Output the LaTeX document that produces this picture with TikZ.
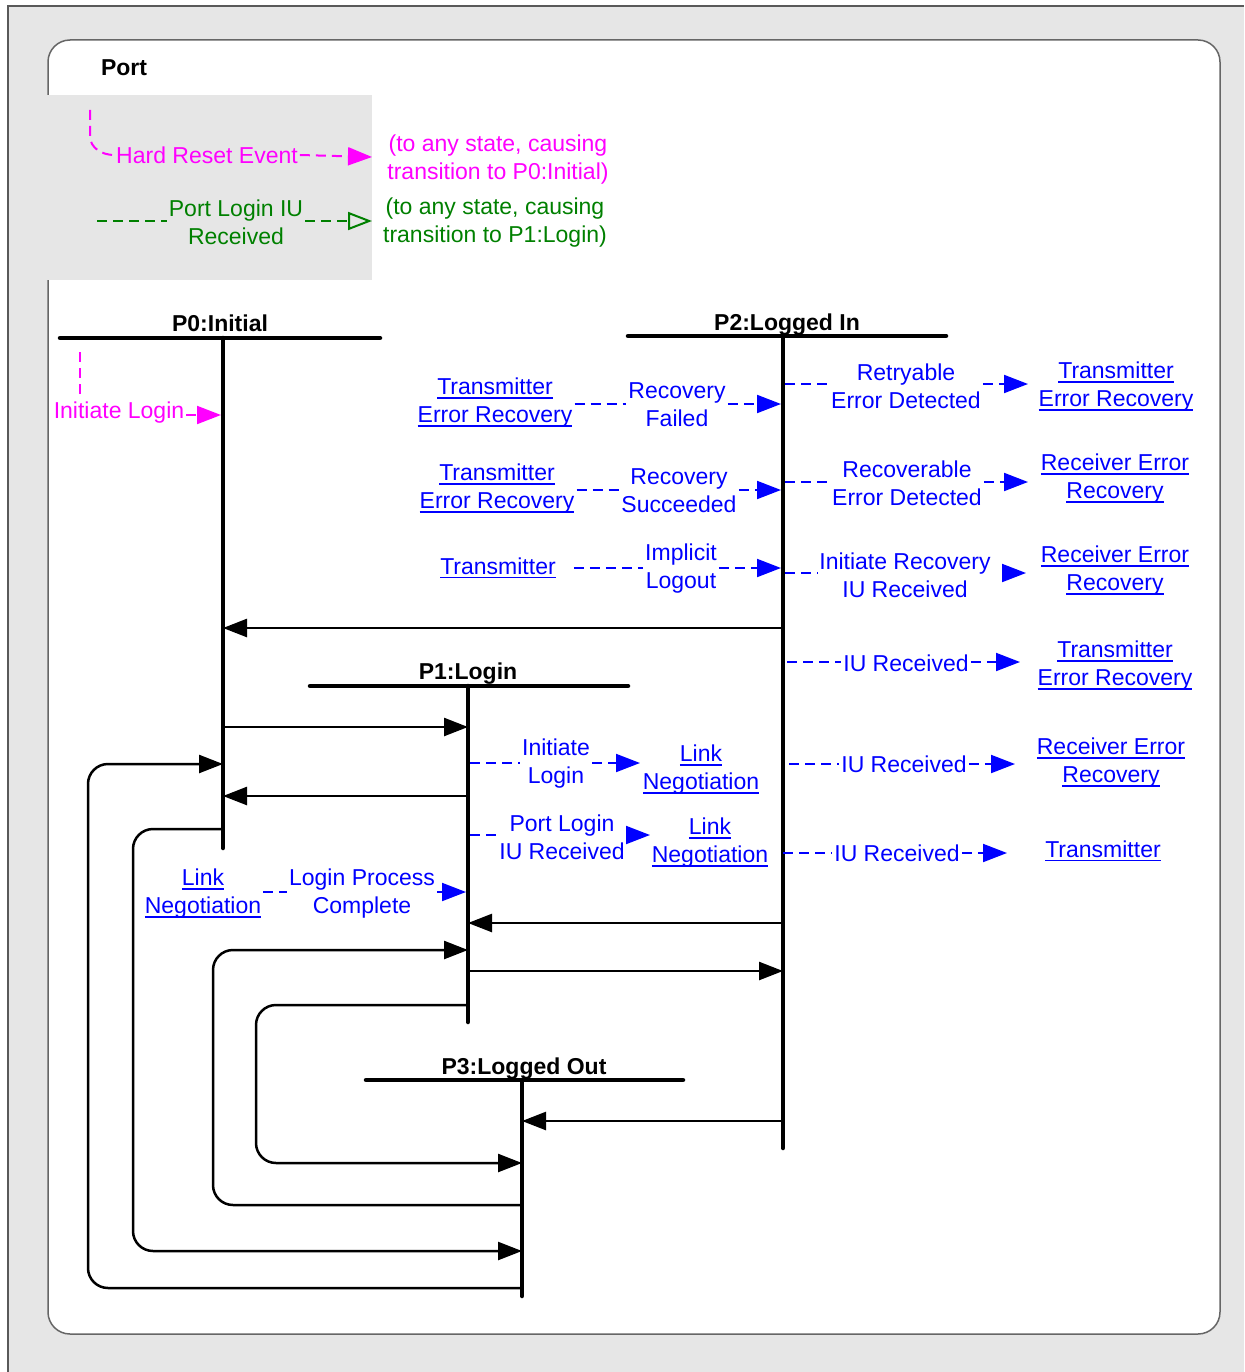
\documentclass[tikz,border=0pt]{standalone}
\usepackage{fontspec}
\setmainfont{Liberation Sans}
\usetikzlibrary{arrows.meta}
\definecolor{mag}{RGB}{255,0,255}
\definecolor{grn}{RGB}{0,128,0}
\definecolor{blu}{RGB}{0,0,255}
\definecolor{bgg}{RGB}{230,230,230}
\newcommand{\lnk}[1]{\setbox0\hbox{#1}\rlap{\vrule width\wd0 height -2.2pt depth 3.8pt}\box0}
\tikzset{
 txt/.style={font=\fontsize{23}{28}\selectfont, align=center, inner sep=2pt},
 st/.style={font=\bfseries\fontsize{23}{28}\selectfont, inner sep=0pt, anchor=base},
 bl/.style={txt, text=blu},
 bd/.style={draw=blu, line width=2pt, dash pattern=on 10pt off 6pt},
 md/.style={draw=mag, line width=2pt, dash pattern=on 10pt off 6pt},
 gd/.style={draw=grn, line width=2pt, dash pattern=on 10pt off 6pt},
 tip/.style={-{Triangle[length=24pt,width=18pt]}},
 otip/.style={-{Triangle[open,length=24pt,width=18pt]}},
 conn/.style={draw=black, line width=2.5pt, -{Triangle[length=24pt,width=18pt]}, rounded corners=20pt},
 life/.style={line width=4.5pt, line cap=round},
}
\begin{document}
\begin{tikzpicture}[x=1pt,y=-1pt]
\useasboundingbox (0,0) rectangle (1244,1372);
% frame
\fill[white] (0,0) rectangle (1244,1372);
\fill[bgg] (8,6) rectangle (1244,1372);
\draw[black!65, line width=1.5pt] (8,1372) -- (8,6) -- (1244,6);
\draw[fill=white, draw=black!60, line width=1.5pt, rounded corners=22pt] (48,40) rectangle (1220,1334);
\fill[bgg] (47,95) rectangle (372,280);
\node[st] (port) at (124,76) {Port};

% legend
\node[txt,text=mag] (hr) at (207,155) {Hard Reset Event};
\node[txt,text=mag] (hrt) at (498,160) {(to any state, causing\\transition to P0:Initial)};
\coordinate (hrs) at (90,110);
\coordinate (hrtip) at (372,157);
\draw[md] (hrs) -- (90,136) to[out=-90,in=180] (hr.west);
\draw[md,tip] (hr.east) -- (hrtip);
\node[txt,text=grn] (pl) at (236,222) {Port Login IU\\Received};
\node[txt,text=grn] (plt) at (495,223) {(to any state, causing\\transition to P1:Login)};
\coordinate (pls) at (97,221);
\coordinate (pltip) at (372,221);
\draw[gd] (pls) -- (pls -| pl.west);
\draw[gd,otip] (pls -| pl.east) -- (pltip);

% states
\node[st] (s0) at (220,331) {P0:Initial};
\node[st] (s2) at (787,330) {P2:Logged In};
\node[st] (s1) at (468,679) {P1:Login};
\node[st] (s3) at (524,1074) {P3:Logged Out};

\draw[life] (60,338) coordinate (b0l) -- (380,338) coordinate (b0r);
\draw[life] (223,338) coordinate (v0t) -- (223,848) coordinate (v0b);
\draw[life] (628,336) coordinate (b2l) -- (946,336) coordinate (b2r);
\draw[life] (783,336) coordinate (v2t) -- (783,1148) coordinate (v2b);
\draw[life] (310,686) coordinate (b1l) -- (628,686) coordinate (b1r);
\draw[life] (468,686) coordinate (v1t) -- (468,1022) coordinate (v1b);
\draw[life] (366,1080) coordinate (b3l) -- (683,1080) coordinate (b3r);
\draw[life] (522,1080) coordinate (v3t) -- (522,1296) coordinate (v3b);

% initiate login (magenta)
\node[txt,text=mag] (il) at (119,413) {Initiate Login};
\coordinate (ils) at (80,352);
\coordinate (ilt) at (221,415);
\draw[md] (ils) -- (80,398);
\draw[md,tip] (il.east |- ilt) -- (ilt);

% left of P2
\node[bl] (l1s) at (495,403) {\lnk{Transmitter}\\\lnk{Error Recovery}};
\node[bl] (l1) at (677,405) {Recovery\\Failed};
\coordinate (p2l1) at (781,404);
\draw[bd] (l1s.east |- p2l1) -- (l1.west |- p2l1);
\draw[bd,tip] (l1.east |- p2l1) -- (p2l1);
\node[bl] (l2s) at (497,489) {\lnk{Transmitter}\\\lnk{Error Recovery}};
\node[bl] (l2) at (679,491) {Recovery\\Succeeded};
\coordinate (p2l2) at (781,490);
\draw[bd] (l2s.east |- p2l2) -- (l2.west |- p2l2);
\draw[bd,tip] (l2.east |- p2l2) -- (p2l2);
\node[bl] (l3s) at (498,568) {\lnk{Transmitter}};
\node[bl] (l3) at (681,569) {Implicit\\Logout};
\coordinate (p2l3) at (781,568);
\draw[bd] ([xshift=16pt]l3s.east |- p2l3) -- (l3.west |- p2l3);
\draw[bd,tip] (l3.east |- p2l3) -- (p2l3);

% right of P2
\coordinate (p2r1) at (785,384);
\coordinate (r1tip) at (1028,384);
\node[bl] (r1) at (906,386) {Retryable\\Error Detected};
\node[bl] (r1t) at (1116,387) {\lnk{Transmitter}\\\lnk{Error Recovery}};
\draw[bd] (p2r1) -- (p2r1 -| r1.west);
\draw[bd,tip] (p2r1 -| r1.east) -- (r1tip);

\coordinate (p2r2) at (785,482);
\coordinate (r2tip) at (1028,482);
\node[bl] (r2) at (907,483) {Recoverable\\Error Detected};
\node[bl] (r2t) at (1115,479) {\lnk{Receiver Error}\\\lnk{Recovery}};
\draw[bd] (p2r2) -- (p2r2 -| r2.west);
\draw[bd,tip] (p2r2 -| r2.east) -- (r2tip);

\coordinate (p2r3) at (785,573);
\coordinate (r3tip) at (1026,573);
\node[bl] (r3) at (905,575) {Initiate Recovery\\IU Received};
\node[bl] (r3t) at (1115,571) {\lnk{Receiver Error}\\\lnk{Recovery}};
\draw[bd] (p2r3) -- (p2r3 -| r3.west);
\draw[bd,tip] ([xshift=12pt]p2r3 -| r3.east) -- (r3tip);

\coordinate (p2r4) at (787,662);
\coordinate (r4tip) at (1020,662);
\node[bl] (r4) at (906,663) {IU Received};
\node[bl] (r4t) at (1115,666) {\lnk{Transmitter}\\\lnk{Error Recovery}};
\draw[bd] (p2r4) -- (p2r4 -| r4.west);
\draw[bd,tip] (p2r4 -| r4.east) -- (r4tip);

\coordinate (p2r5) at (789,764);
\coordinate (r5tip) at (1015,764);
\node[bl] (r5) at (904,764) {IU Received};
\node[bl] (r5t) at (1111,763) {\lnk{Receiver Error}\\\lnk{Recovery}};
\draw[bd] (p2r5) -- (p2r5 -| r5.west);
\draw[bd,tip] (p2r5 -| r5.east) -- (r5tip);

\coordinate (p2r6) at (783,853);
\coordinate (r6tip) at (1007,853);
\node[bl] (r6) at (897,853) {IU Received};
\node[bl] (r6t) at (1103,851) {\lnk{Transmitter}};
\draw[bd] (p2r6) -- (p2r6 -| r6.west);
\draw[bd,tip] (p2r6 -| r6.east) -- (r6tip);

% P1 transitions
\coordinate (p1r1) at (470,763);
\coordinate (a1tip) at (640,763);
\node[bl] (a1) at (556,764) {Initiate\\Login};
\node[bl] (a1t) at (701,770) {\lnk{Link}\\\lnk{Negotiation}};
\draw[bd] (p1r1) -- (p1r1 -| a1.west);
\draw[bd,tip] (p1r1 -| a1.east) -- (a1tip);

\coordinate (p1r2) at (470,835);
\coordinate (a2tip) at (650,835);
\node[bl] (a2) at (562,837) {Port Login\\IU Received};
\node[bl] (a2t) at (710,843) {\lnk{Link}\\\lnk{Negotiation}};
\draw[bd] (p1r2) -- (p1r2 -| a2.west);
\draw[bd,tip] (p1r2 -| a2.east) -- (a2tip);

\node[bl] (a3s) at (203,894) {\lnk{Link}\\\lnk{Negotiation}};
\node[bl] (a3) at (362,894) {Login Process\\Complete};
\coordinate (p1l1) at (466,892);
\draw[bd] (a3s.east |- p1l1) -- (a3.west |- p1l1);
\draw[bd,tip] (a3.east |- p1l1) -- (p1l1);

% black connectors
\coordinate (c1a) at (783,628); \coordinate (c1b) at (223,628);
\draw[conn] (c1a) -- (c1b);
\coordinate (c2a) at (223,727); \coordinate (c2b) at (468,727);
\draw[conn] (c2a) -- (c2b);
\coordinate (c3a) at (522,1288); \coordinate (c3b) at (223,764);
\draw[conn] (c3a) -- (88,1288) -- (88,764) -- (c3b);
\coordinate (c4a) at (468,796); \coordinate (c4b) at (223,796);
\draw[conn] (c4a) -- (c4b);
\coordinate (c5a) at (223,829); \coordinate (c5b) at (522,1251);
\draw[conn] (c5a) -- (133,829) -- (133,1251) -- (c5b);
\coordinate (c6a) at (783,923); \coordinate (c6b) at (468,923);
\draw[conn] (c6a) -- (c6b);
\coordinate (c7a) at (522,1205); \coordinate (c7b) at (468,950);
\draw[conn] (c7a) -- (213,1205) -- (213,950) -- (c7b);
\coordinate (c8a) at (468,971); \coordinate (c8b) at (783,971);
\draw[conn] (c8a) -- (c8b);
\coordinate (c9a) at (468,1005); \coordinate (c9b) at (522,1163);
\draw[conn] (c9a) -- (256,1005) -- (256,1163) -- (c9b);
\coordinate (c10a) at (783,1121); \coordinate (c10b) at (522,1121);
\draw[conn] (c10a) -- (c10b);
\end{tikzpicture}
\end{document}
